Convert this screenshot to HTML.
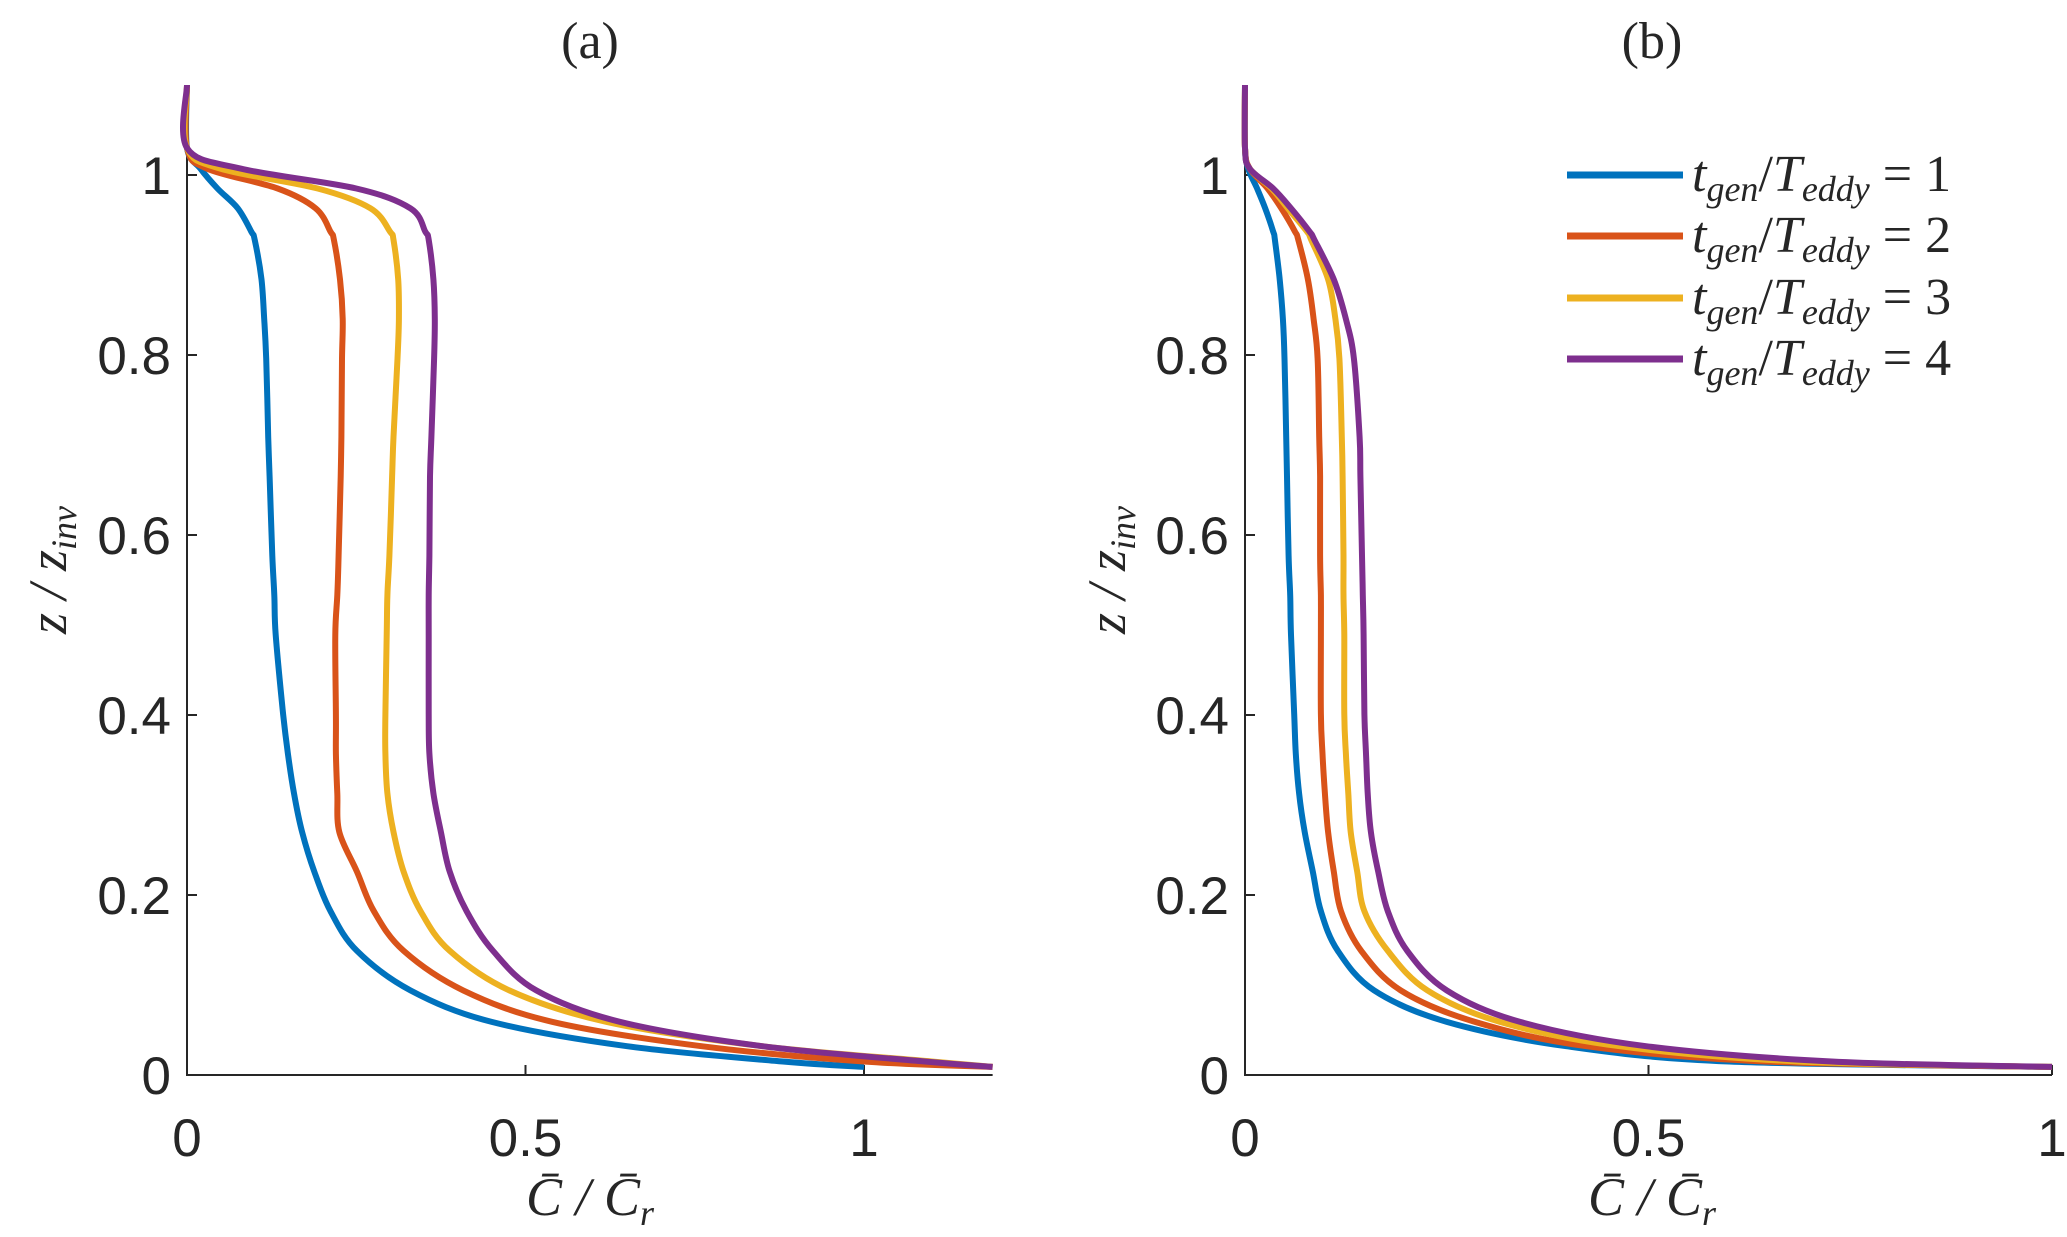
<!DOCTYPE html>
<html><head><meta charset="utf-8">
<style>
html,body{margin:0;padding:0;background:#fff;}
svg{display:block;}
.tk{font-family:"Liberation Sans",sans-serif;font-size:53px;fill:#262626;}
.ser{font-family:"Liberation Serif",serif;fill:#262626;}
</style></head>
<body>
<svg id="chart" width="2067" height="1237" viewBox="0 0 2067 1237"></svg>
<script>
// ---- data ----
const yLevels = [1.10,1.03,1.007,0.985,0.963,0.937,0.928,0.884,0.840,0.796,0.709,0.665,0.577,0.533,0.489,0.401,0.357,0.313,0.270,0.226,0.182,0.138,0.094,0.059,0.032,0.015,0.009];
const seriesNames = ["t_gen/T_eddy = 1","t_gen/T_eddy = 2","t_gen/T_eddy = 3","t_gen/T_eddy = 4"];
const colors = ["#0072BD","#D95319","#EDB120","#7E2F8E"];
// panel (a)
const aS1 = [0,0,0.02,0.045,0.075,0.095,0.100,0.110,0.114,0.117,0.120,0.122,0.126,0.129,0.131,0.142,0.149,0.158,0.170,0.188,0.212,0.251,0.33,0.45,0.65,0.88,1.0];
const aS2 = [0,0,0.03,0.134,0.19,0.212,0.217,0.226,0.230,0.229,0.228,0.227,0.224,0.222,0.219,0.220,0.220,0.222,0.225,0.251,0.276,0.32,0.408,0.540,0.76,1.0,1.19];
const aS3 = [0,0,0.05,0.193,0.271,0.300,0.305,0.312,0.313,0.311,0.305,0.303,0.299,0.296,0.295,0.293,0.293,0.296,0.305,0.320,0.345,0.388,0.476,0.62,0.85,1.1,1.19];
const aS4 = [0,0,0.08,0.25,0.33,0.352,0.357,0.364,0.366,0.365,0.361,0.359,0.358,0.357,0.357,0.357,0.358,0.364,0.375,0.388,0.413,0.452,0.516,0.64,0.85,1.09,1.19];
// panel (b)
const bS1 = [0,0,0.004,0.015,0.025,0.035,0.037,0.043,0.047,0.049,0.051,0.052,0.054,0.056,0.057,0.061,0.063,0.067,0.074,0.084,0.094,0.115,0.16,0.25,0.398,0.6,1.0];
const bS2 = [0,0,0.006,0.028,0.045,0.062,0.066,0.078,0.085,0.090,0.092,0.093,0.093,0.094,0.094,0.094,0.096,0.099,0.103,0.110,0.119,0.144,0.193,0.285,0.423,0.644,1.0];
const bS3 = [0,0,0.006,0.033,0.053,0.077,0.082,0.103,0.112,0.117,0.120,0.121,0.122,0.122,0.123,0.123,0.125,0.128,0.131,0.139,0.148,0.177,0.226,0.316,0.464,0.686,1.0];
const bS4 = [0,0,0.006,0.035,0.057,0.080,0.086,0.110,0.125,0.135,0.142,0.143,0.145,0.146,0.147,0.148,0.150,0.152,0.156,0.165,0.177,0.201,0.25,0.341,0.497,0.727,1.0];
const xTicksA = [0,0.5,1];
const xTickLabelsA = ["0","0.5","1"];
const xTicksB = [0,0.5,1];
const xTickLabelsB = ["0","0.5","1"];
const yTicks = [0,0.2,0.4,0.6,0.8,1];
const yTickLabels = ["0","0.2","0.4","0.6","0.8","1"];

const NS="http://www.w3.org/2000/svg";
const svg=document.getElementById('chart');
function mk(tag,attrs,parent){const e=document.createElementNS(NS,tag);for(const k in attrs)e.setAttribute(k,attrs[k]);(parent||svg).appendChild(e);return e;}
function smooth(pts){
  let d='M'+pts[0][0].toFixed(1)+','+pts[0][1].toFixed(1);
  for(let i=0;i<pts.length-1;i++){
    const p0=pts[Math.max(0,i-1)],p1=pts[i],p2=pts[i+1],p3=pts[Math.min(pts.length-1,i+2)];
    const t=0.5/3;
    const c1=[p1[0]+(p2[0]-p0[0])*t,p1[1]+(p2[1]-p0[1])*t];
    const c2=[p2[0]-(p3[0]-p1[0])*t,p2[1]-(p3[1]-p1[1])*t];
    d+=` C${c1[0].toFixed(1)},${c1[1].toFixed(1)} ${c2[0].toFixed(1)},${c2[1].toFixed(1)} ${p2[0].toFixed(1)},${p2[1].toFixed(1)}`;
  }
  return d;
}

function panel(opt){
  const g=mk('g',{});
  
  
  const X=v=>opt.x0+v*opt.xu;
  const Y=v=>1075-v*900;
  const xr=X(opt.xmax);
  const ax=mk('path',{d:`M${X(0)},${Y(1.1)} L${X(0)},${Y(0)} L${xr},${Y(0)}`,stroke:'#262626','stroke-width':2,fill:'none'},g);
  
  
  opt.xt.forEach((t,i)=>{
    mk('line',{x1:X(t),x2:X(t),y1:Y(0),y2:Y(0)-10,stroke:'#262626','stroke-width':2},g);
    const tx=mk('text',{x:X(t),y:1156,'text-anchor':'middle',class:'tk'},g);
    tx.textContent=opt.xl[i];
    
    
  });
  yTicks.forEach((t,i)=>{
    mk('line',{x1:X(0),x2:X(0)+10,y1:Y(t),y2:Y(t),stroke:'#262626','stroke-width':2},g);
    const tx=mk('text',{x:X(0)-16,y:Y(t)+19,'text-anchor':'end',class:'tk'},g);
    tx.textContent=yTickLabels[i];
    
    
  });
  opt.series.forEach((s,i)=>{
    const pts=s.map((v,j)=>[X(v),Y(yLevels[j])]);
    const p=mk('path',{d:smooth(pts),stroke:colors[i],'stroke-width':6,fill:'none','stroke-linejoin':'round'},g);
    
    
  });
  const ti=mk('text',{x:opt.tx,y:58,'text-anchor':'middle',class:'ser','font-size':52},g);
  ti.textContent=opt.title;
  
  
  const xl=mk('text',{x:opt.tx,y:1215,'text-anchor':'middle',class:'ser','font-size':54,'font-style':'italic'},g);
  xl.innerHTML='C̄ / C̄<tspan font-size="36" dy="10">r</tspan>';
  
  
  const yl=mk('text',{x:0,y:0,'text-anchor':'middle',class:'ser','font-size':54,'font-style':'italic',transform:`translate(${opt.ylx},570) rotate(-90)`},g);
  yl.innerHTML='z / z<tspan font-size="36" dy="10">inv</tspan>';
  
  
}
panel({name:'panel-a',x0:187,xu:677,xmax:1.19,xt:xTicksA,xl:xTickLabelsA,series:[aS1,aS2,aS3,aS4],title:'(a)',tx:590,ylx:66});
panel({name:'panel-b',x0:1245,xu:807,xmax:1.0,xt:xTicksB,xl:xTickLabelsB,series:[bS1,bS2,bS3,bS4],title:'(b)',tx:1652,ylx:1125});

const lg=mk('g',{});


const legY=[175,236,298,359];
seriesNames.forEach((n,i)=>{
  const l=mk('line',{x1:1567,x2:1683,y1:legY[i],y2:legY[i],stroke:colors[i],'stroke-width':7},lg);
  
  
  const t=mk('text',{x:1692,y:legY[i]+16,class:'ser','font-size':52},lg);
  t.innerHTML='<tspan font-style="italic">t</tspan><tspan font-style="italic" font-size="36" dy="10">gen</tspan><tspan dy="-10">/</tspan><tspan font-style="italic">T</tspan><tspan font-style="italic" font-size="36" dy="10">eddy</tspan><tspan dy="-10"> = '+(i+1)+'</tspan>';
  
  
});
</script>
</body></html>
